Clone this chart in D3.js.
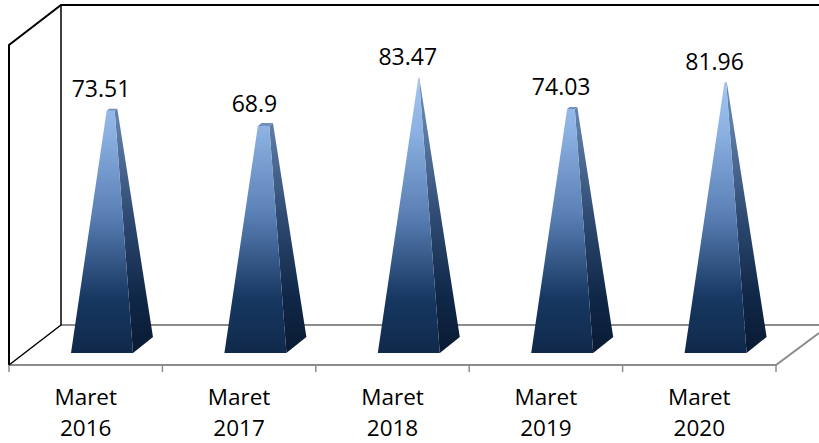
<!DOCTYPE html>
<html><head><meta charset="utf-8">
<script src="https://cdn.jsdelivr.net/npm/d3@7"></script>
<style>html,body{margin:0;background:#fff}svg{display:block}text{font-family:"Open Sans",Lato,sans-serif;fill:#000}</style>
</head><body><svg id="c" width="819" height="443"></svg>
<script>
const categories=["Maret 2016","Maret 2017","Maret 2018","Maret 2019","Maret 2020"];
const values=[73.51,68.9,83.47,74.03,81.96];
const labels=["73.51","68.9","83.47","74.03","81.96"];
const yMax=100, shapeMax=84.5;

const svg=d3.select("#c");
const x=d3.scaleBand().domain(categories).range([9,776]);
const y=d3.scaleLinear().domain([0,yMax]).range([345,25]);
const dx=26,dy=20;
const wallTop=y(yMax)-dy;

const defs=svg.append("defs");
function grad(id,stops){
  const g=defs.append("linearGradient").attr("id",id).attr("gradientUnits","userSpaceOnUse")
    .attr("x1",0).attr("x2",0).attr("y1",y(shapeMax)).attr("y2",353);
  stops.forEach(s=>g.append("stop").attr("offset",s[0]).attr("stop-color",s[1]));
}
grad("front",[[0,"#a4c8f4"],[0.2,"#8cb1e2"],[0.5,"#5a80b5"],[0.8,"#173862"],[1,"#10294a"]]);
grad("side",[[0,"#6f8cb4"],[0.2,"#5b7ba5"],[0.5,"#304c74"],[0.8,"#0f2747"],[1,"#0a1b33"]]);

const gray="#8c8c8c";
const X0=x.range()[0],X1=x.range()[1];
const g=svg.append("g").attr("fill","none");
g.append("path").attr("d",d3.line()([[X0+dx*2,y(0)-dy],[819,y(0)-dy]])).attr("stroke",gray).attr("stroke-width",2);
g.append("path").attr("d",d3.line()([[X0,y(0)+dy],[X1,y(0)+dy],[819,y(0)+dy-32]])).attr("stroke",gray).attr("stroke-width",2);
x.domain().concat([null]).forEach(c=>{
  const tx=c===null?X1:x(c);
  g.append("line").attr("x1",tx).attr("x2",tx).attr("y1",y(0)+dy).attr("y2",y(0)+dy+7).attr("stroke",gray).attr("stroke-width",1.5);
});
g.append("path").attr("d",d3.line()([[X0,y(0)+dy],[X0,wallTop+dy*2],[X0+dx*2,wallTop],[819,wallTop]])).attr("stroke","#000").attr("stroke-width",2);
g.append("path").attr("d",d3.line()([[X0+dx*2,wallTop],[X0+dx*2,y(0)-dy],[X0,y(0)+dy]])).attr("stroke","#000").attr("stroke-width",1.5);

const oy=8;
values.forEach((v,i)=>{
  const cat=categories[i];
  const cx=x(cat)+x.bandwidth()/2+26.3;
  const base={fl:[cx-41,y(0)+oy],fr:[cx+21,y(0)+oy],br:[cx+41,y(0)-oy],bl:[cx-21,y(0)-oy]};
  const apex=[cx,y(shapeMax)];
  const t=v/shapeMax;
  const at=p=>[p[0]+(apex[0]-p[0])*t,p[1]+(apex[1]-p[1])*t];
  const line=d3.line().curve(d3.curveLinearClosed);
  svg.append("path").attr("d",line([base.fr,base.br,at(base.br),at(base.fr)])).attr("fill","url(#side)");
  svg.append("path").attr("d",line([base.fl,base.fr,at(base.fr),at(base.fl)])).attr("fill","url(#front)");
  svg.append("path").attr("d",line([at(base.fl),at(base.fr),at(base.br),at(base.bl)])).attr("fill","#6f8fbc");
  svg.append("text").attr("x",cx-11).attr("y",y(v)-13).attr("text-anchor","middle").attr("font-size",23).text(labels[i]);
  const parts=cat.split(" ");
  const lx=x(cat)+x.bandwidth()/2;
  parts.forEach((p,j)=>svg.append("text").attr("x",lx).attr("y",405+j*31).attr("text-anchor","middle").attr("font-size",22.5).text(p));
});
</script></body></html>
